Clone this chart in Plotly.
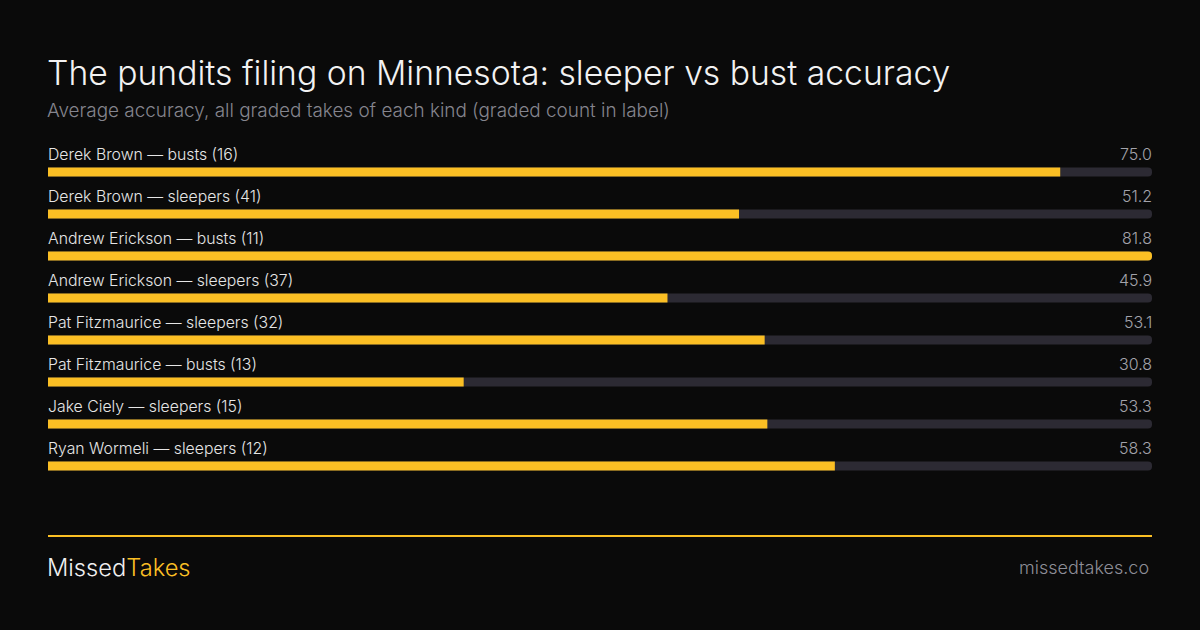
import plotly.graph_objects as go

## Data

labels = [
    "Derek Brown — busts (16)",
    "Derek Brown — sleepers (41)",
    "Andrew Erickson — busts (11)",
    "Andrew Erickson — sleepers (37)",
    "Pat Fitzmaurice — sleepers (32)",
    "Pat Fitzmaurice — busts (13)",
    "Jake Ciely — sleepers (15)",
    "Ryan Wormeli — sleepers (12)",
]
accuracy = [75.0, 51.2, 81.8, 45.9, 53.1, 30.8, 53.3, 58.3]

title = "The pundits filing on Minnesota: sleeper vs bust accuracy"
subtitle = "Average accuracy, all graded takes of each kind (graded count in label)"

## Style

W, H = 1200, 630
BG = "#0a0a0a"
GOLD = "#fbbf24"
TRACK = "#2c2a33"
FONT = "Inter"
first_row = 172
row_gap = 42

max_val = max(accuracy)
rows = [first_row + i * row_gap for i in range(len(labels))]


def px(x):
    return x / W


def main():
    fig = go.Figure()

    # background track
    fig.add_trace(go.Bar(
        x=[max_val] * len(labels), y=rows, orientation="h", width=9,
        marker=dict(color=TRACK, cornerradius=5, line_width=0),
        hoverinfo="skip", showlegend=False,
    ))
    # value bars
    fig.add_trace(go.Bar(
        x=accuracy, y=rows, orientation="h", width=9,
        marker=dict(color=GOLD, cornerradius=5, line_width=0),
        customdata=labels, hovertemplate="%{customdata}: %{x:.1f}<extra></extra>",
        showlegend=False,
    ))

    annotations = []
    for lab, val, y in zip(labels, accuracy, rows):
        annotations.append(dict(
            x=0, y=y - 18, xref="x", yref="y", text=lab, showarrow=False,
            xanchor="left", yanchor="middle", xshift=-2,
            font=dict(family=FONT, size=15.8, color="#e6e6e6", weight=300),
        ))
        annotations.append(dict(
            x=max_val, y=y - 18, xref="x", yref="y", text=f"{val:.1f}", showarrow=False,
            xanchor="right", yanchor="middle", xshift=2,
            font=dict(family=FONT, size=16, color="#a3a3ab", weight=300),
        ))

    annotations += [
        dict(x=px(48), y=72, xref="paper", yref="y", text=title,
             showarrow=False, xanchor="left", yanchor="middle", xshift=-3,
             font=dict(family=FONT, size=33.7, color="#f2f2f2", weight=300)),
        dict(x=px(48), y=110, xref="paper", yref="y", text=subtitle,
             showarrow=False, xanchor="left", yanchor="middle", xshift=-3,
             font=dict(family=FONT, size=18.9, color="#85858e", weight=300)),
        dict(x=px(48), y=567, xref="paper", yref="y",
             text=f"<span style='color:#f0f0f0'>Missed</span><span style='color:{GOLD}'>Takes</span>",
             showarrow=False, xanchor="left", yanchor="middle", xshift=-3,
             font=dict(family=FONT, size=23.7, color="#f0f0f0", weight=300)),
        dict(x=px(1150), y=567, xref="paper", yref="y", text="missedtakes.co",
             showarrow=False, xanchor="right", yanchor="middle", xshift=1,
             font=dict(family=FONT, size=18, color="#8e8e97", weight=300)),
    ]

    fig.update_layout(
        width=W, height=H,
        margin=dict(l=0, r=0, t=0, b=0),
        paper_bgcolor=BG, plot_bgcolor=BG,
        barmode="overlay",
        annotations=annotations,
        xaxis=dict(domain=[px(48), px(1152)], range=[0, max_val], visible=False, fixedrange=True),
        yaxis=dict(domain=[0, 1], range=[H, 0], visible=False, fixedrange=True),
        shapes=[dict(type="line", xref="paper", yref="y", x0=px(48), x1=px(1152), y0=536, y1=536,
                     line=dict(color=GOLD, width=2))],
    )

    # page body has an 8px default margin; drop it so the figure sits at 0,0
    fig.write_html("out.html", post_script="document.body.style.margin='0';",
                   config={"displayModeBar": False})


if __name__ == "__main__":
    main()
